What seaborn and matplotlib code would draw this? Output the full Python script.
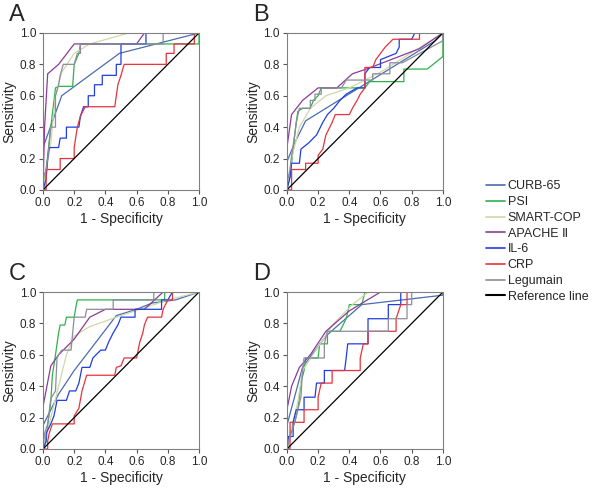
import numpy as np
import pandas as pd
import seaborn as sns
import matplotlib.pyplot as plt
from matplotlib.lines import Line2D

markers = ['CURB-65', 'PSI', 'SMART-COP', 'APACHE \u2161', 'IL-6', 'CRP', 'Legumain']
colors = ['#4a6cb0', '#2db34a', '#cfd8a8', '#8b3b98', '#1f3de0', '#e8323c', '#8c8c9c']
panels = ['A', 'B', 'C', 'D']
ticks = [0.0, 0.2, 0.4, 0.6, 0.8, 1.0]

# (1 - specificity, sensitivity) points per marker
a_curb = [(0, 0), (0, 0.27), (0.12, 0.6), (0.49, 0.87), (1, 1)]
a_psi = [(0, 0), (0.02, 0.13), (0.05, 0.4), (0.08, 0.65), (0.1, 0.66), (0.19, 0.66), (0.2, 0.8), (0.23, 0.87), (0.24, 0.93), (1, 0.93), (1, 1)]
a_smart = [(0, 0), (0.05, 0.3), (0.08, 0.6), (0.12, 0.75), (0.2, 0.87), (0.3, 0.93), (0.55, 1.0), (1, 1)]
a_apache = [(0, 0), (0.01, 0.4), (0.03, 0.74), (0.1, 0.8), (0.2, 0.93), (0.6, 0.93), (0.65, 1), (1, 1)]
a_il6 = [(0, 0), (0.02, 0.07), (0.03, 0.2), (0.04, 0.27), (0.1, 0.27), (0.11, 0.33), (0.15, 0.33), (0.15, 0.4), (0.23, 0.4), (0.24, 0.47), (0.26, 0.53), (0.29, 0.53), (0.29, 0.6), (0.33, 0.6), (0.33, 0.67), (0.38, 0.67), (0.38, 0.73), (0.47, 0.73), (0.47, 0.8), (0.5, 0.8), (0.5, 0.93), (0.66, 0.93), (0.66, 1.0), (1, 1)]
a_crp = [(0, 0), (0.02, 0.0), (0.02, 0.13), (0.11, 0.13), (0.11, 0.2), (0.2, 0.2), (0.2, 0.27), (0.22, 0.4), (0.24, 0.47), (0.27, 0.53), (0.46, 0.53), (0.47, 0.6), (0.48, 0.67), (0.5, 0.73), (0.52, 0.8), (0.79, 0.8), (0.79, 0.87), (0.84, 0.87), (0.84, 0.93), (0.97, 0.93), (0.97, 1), (1, 1)]
a_legu = [(0, 0), (0, 0.07), (0.02, 0.13), (0.03, 0.2), (0.05, 0.4), (0.08, 0.4), (0.08, 0.6), (0.1, 0.67), (0.11, 0.73), (0.13, 0.8), (0.2, 0.8), (0.22, 0.87), (0.24, 0.87), (0.24, 0.93), (0.77, 0.93), (0.77, 1.0), (1, 1)]

b_curb = [(0, 0), (0, 0.18), (0.05, 0.3), (0.12, 0.44), (0.95, 0.95), (1, 1)]
b_psi = [(0, 0), (0.02, 0.09), (0.03, 0.17), (0.05, 0.35), (0.06, 0.43), (0.07, 0.5), (0.1, 0.52), (0.15, 0.52), (0.17, 0.57), (0.2, 0.6), (0.22, 0.65), (0.5, 0.65), (0.53, 0.69), (0.75, 0.69), (0.75, 0.77), (0.9, 0.77), (1, 0.85), (1, 1)]
b_smart = [(0, 0), (0.03, 0.2), (0.08, 0.4), (0.15, 0.52), (0.25, 0.6), (0.4, 0.65), (0.6, 0.75), (1, 1)]
b_apache = [(0, 0), (0, 0.27), (0.03, 0.48), (0.1, 0.57), (0.2, 0.65), (0.32, 0.65), (0.42, 0.74), (0.51, 0.77), (0.85, 0.9), (1, 1)]
b_il6 = [(0, 0), (0.02, 0.08), (0.03, 0.17), (0.08, 0.17), (0.09, 0.26), (0.14, 0.3), (0.19, 0.35), (0.21, 0.39), (0.23, 0.43), (0.26, 0.48), (0.3, 0.52), (0.34, 0.57), (0.38, 0.61), (0.45, 0.65), (0.5, 0.65), (0.5, 0.74), (0.53, 0.78), (0.6, 0.78), (0.6, 0.83), (0.7, 0.87), (0.72, 0.91), (0.72, 0.96), (0.8, 0.96), (0.82, 1), (1, 1)]
b_crp = [(0, 0), (0.03, 0.0), (0.03, 0.13), (0.12, 0.13), (0.12, 0.17), (0.2, 0.17), (0.2, 0.22), (0.23, 0.26), (0.25, 0.35), (0.27, 0.39), (0.29, 0.43), (0.31, 0.48), (0.4, 0.48), (0.42, 0.52), (0.45, 0.57), (0.47, 0.61), (0.5, 0.65), (0.5, 0.78), (0.55, 0.78), (0.57, 0.83), (0.6, 0.87), (0.63, 0.91), (0.68, 0.96), (0.85, 0.96), (0.85, 1), (1, 1)]
b_legu = [(0, 0), (0, 0.04), (0.02, 0.13), (0.03, 0.22), (0.05, 0.35), (0.06, 0.43), (0.08, 0.52), (0.15, 0.52), (0.15, 0.57), (0.18, 0.57), (0.18, 0.61), (0.22, 0.61), (0.22, 0.65), (0.35, 0.65), (0.38, 0.7), (0.55, 0.7), (0.55, 0.74), (0.66, 0.74), (0.66, 0.81), (0.74, 0.81), (1, 0.95), (1, 1)]

c_curb = [(0, 0), (0, 0.15), (0.1, 0.35), (0.2, 0.5), (0.47, 0.85), (0.6, 0.89), (0.7, 0.93), (0.85, 0.95), (1, 1)]
c_psi = [(0, 0), (0.02, 0.05), (0.03, 0.15), (0.05, 0.3), (0.06, 0.47), (0.08, 0.6), (0.1, 0.74), (0.11, 0.79), (0.14, 0.79), (0.15, 0.84), (0.2, 0.84), (0.21, 0.9), (0.22, 0.95), (0.78, 0.95), (0.78, 1), (1, 1)]
c_smart = [(0, 0), (0.05, 0.2), (0.1, 0.4), (0.15, 0.6), (0.2, 0.72), (0.3, 0.78), (0.5, 0.85), (0.8, 0.95), (1, 1)]
c_apache = [(0, 0), (0, 0.27), (0.05, 0.53), (0.1, 0.6), (0.2, 0.7), (0.3, 0.84), (0.4, 0.89), (0.65, 0.89), (0.77, 1.0), (1, 1)]
c_il6 = [(0, 0), (0.02, 0.05), (0.02, 0.1), (0.05, 0.16), (0.07, 0.21), (0.08, 0.26), (0.09, 0.31), (0.15, 0.31), (0.17, 0.37), (0.21, 0.37), (0.23, 0.42), (0.24, 0.47), (0.25, 0.52), (0.3, 0.52), (0.32, 0.58), (0.37, 0.63), (0.4, 0.63), (0.42, 0.68), (0.45, 0.74), (0.48, 0.79), (0.5, 0.84), (0.59, 0.84), (0.59, 0.89), (0.76, 0.89), (0.76, 0.95), (0.8, 0.95), (0.83, 1.0), (1, 1)]
c_crp = [(0, 0), (0.03, 0), (0.03, 0.05), (0.04, 0.1), (0.06, 0.16), (0.2, 0.16), (0.2, 0.21), (0.23, 0.26), (0.25, 0.37), (0.28, 0.47), (0.46, 0.47), (0.47, 0.52), (0.5, 0.53), (0.52, 0.58), (0.6, 0.58), (0.62, 0.68), (0.64, 0.74), (0.65, 0.79), (0.67, 0.84), (0.76, 0.84), (0.77, 0.89), (0.8, 0.95), (0.83, 0.95), (0.83, 1), (1, 1)]
c_legu = [(0, 0), (0.01, 0.1), (0.03, 0.16), (0.05, 0.32), (0.08, 0.37), (0.09, 0.58), (0.1, 0.6), (0.12, 0.63), (0.18, 0.63), (0.19, 0.74), (0.2, 0.84), (0.27, 0.84), (0.28, 0.89), (0.45, 0.89), (0.45, 0.95), (0.71, 0.95), (0.71, 1.0), (1, 1)]

d_curb = [(0, 0), (0, 0.15), (0.1, 0.52), (0.25, 0.72), (0.48, 0.92), (1, 0.98), (1, 1)]
d_psi = [(0, 0), (0.02, 0.08), (0.05, 0.17), (0.07, 0.25), (0.09, 0.42), (0.11, 0.5), (0.12, 0.58), (0.2, 0.58), (0.21, 0.67), (0.26, 0.67), (0.26, 0.75), (0.34, 0.75), (0.38, 0.83), (0.4, 0.92), (0.48, 0.92), (0.5, 1.0), (1, 1)]
d_smart = [(0, 0), (0.02, 0.1), (0.07, 0.3), (0.1, 0.5), (0.2, 0.65), (0.3, 0.8), (0.42, 0.92), (0.52, 1.0), (1, 1)]
d_apache = [(0, 0), (0, 0.25), (0.03, 0.4), (0.08, 0.52), (0.15, 0.6), (0.25, 0.75), (0.4, 0.88), (0.6, 1.0), (1, 1)]
d_il6 = [(0, 0), (0.01, 0.08), (0.04, 0.08), (0.04, 0.17), (0.06, 0.25), (0.11, 0.25), (0.11, 0.33), (0.18, 0.33), (0.19, 0.42), (0.24, 0.42), (0.24, 0.5), (0.37, 0.5), (0.38, 0.58), (0.39, 0.67), (0.52, 0.67), (0.52, 0.83), (0.65, 0.83), (0.65, 0.92), (0.73, 0.92), (0.73, 1.0), (1, 1)]
d_crp = [(0, 0), (0.02, 0), (0.02, 0.17), (0.11, 0.17), (0.11, 0.25), (0.2, 0.25), (0.2, 0.33), (0.22, 0.42), (0.29, 0.42), (0.29, 0.5), (0.47, 0.5), (0.47, 0.58), (0.49, 0.67), (0.52, 0.67), (0.52, 0.75), (0.7, 0.75), (0.7, 0.83), (0.73, 0.92), (0.77, 0.92), (0.77, 1.0), (1, 1)]
d_legu = [(0, 0), (0.02, 0.08), (0.05, 0.17), (0.07, 0.25), (0.09, 0.33), (0.1, 0.5), (0.11, 0.58), (0.24, 0.58), (0.24, 0.67), (0.26, 0.75), (0.65, 0.75), (0.65, 0.83), (0.77, 0.83), (0.77, 0.92), (0.8, 0.92), (0.8, 1.0), (1, 1)]

curves = {
    'A': [a_curb, a_psi, a_smart, a_apache, a_il6, a_crp, a_legu],
    'B': [b_curb, b_psi, b_smart, b_apache, b_il6, b_crp, b_legu],
    'C': [c_curb, c_psi, c_smart, c_apache, c_il6, c_crp, c_legu],
    'D': [d_curb, d_psi, d_smart, d_apache, d_il6, d_crp, d_legu],
}

sns.set_style('white')
plt.rcParams['font.family'] = ['Liberation Sans', 'DejaVu Sans']

fig = plt.figure(figsize=(5.94, 4.92), dpi=100)
pos = {'A': (0.0724, 0.614), 'B': (0.483, 0.614), 'C': (0.0724, 0.0874), 'D': (0.483, 0.0874)}
w, h = 0.2626, 0.319

for p in panels:
    ax = fig.add_axes([pos[p][0], pos[p][1], w, h])
    rows = []
    for m, pts in zip(markers, curves[p]):
        for i, (x, y) in enumerate(pts):
            rows.append({'marker': m, 'order': i, 'fpr': x, 'tpr': y})
    df = pd.DataFrame(rows)
    sns.lineplot(data=df, x='fpr', y='tpr', hue='marker', hue_order=markers,
                 palette=colors, sort=False, estimator=None, units='marker',
                 lw=0.9, legend=False, ax=ax)
    sns.lineplot(x=[0, 1], y=[0, 1], color='black', lw=0.9, ax=ax)
    ax.set_xlim(0, 1)
    ax.set_ylim(0, 1)
    ax.set_xticks(ticks)
    ax.set_yticks(ticks)
    ax.set_xticklabels([f'{t:.1f}' for t in ticks])
    ax.set_yticklabels([f'{t:.1f}' for t in ticks])
    ax.tick_params(direction='out', length=3, width=0.8, labelsize=8.5,
                   left=True, bottom=True, color='#555555', pad=2)
    for s in ax.spines.values():
        s.set_color('#808080')
        s.set_linewidth(0.8)
    ax.set_xlabel('1 - Specificity', fontsize=10, labelpad=2)
    ax.set_ylabel('Sensitivity', fontsize=10, labelpad=2)
    fig.text(pos[p][0] - 0.057, pos[p][1] + h + 0.015, p, fontsize=17, va='bottom', ha='left')

handles = [Line2D([], [], color=c, lw=1.2) for c in colors]
handles.append(Line2D([], [], color='black', lw=1.5))
fig.legend(handles, markers + ['Reference line'], loc='upper left',
           bbox_to_anchor=(0.8, 0.656), frameon=False, fontsize=9,
           handlelength=1.5, handletextpad=0.2, labelspacing=0.3)

fig.savefig('out.png', dpi=100)
